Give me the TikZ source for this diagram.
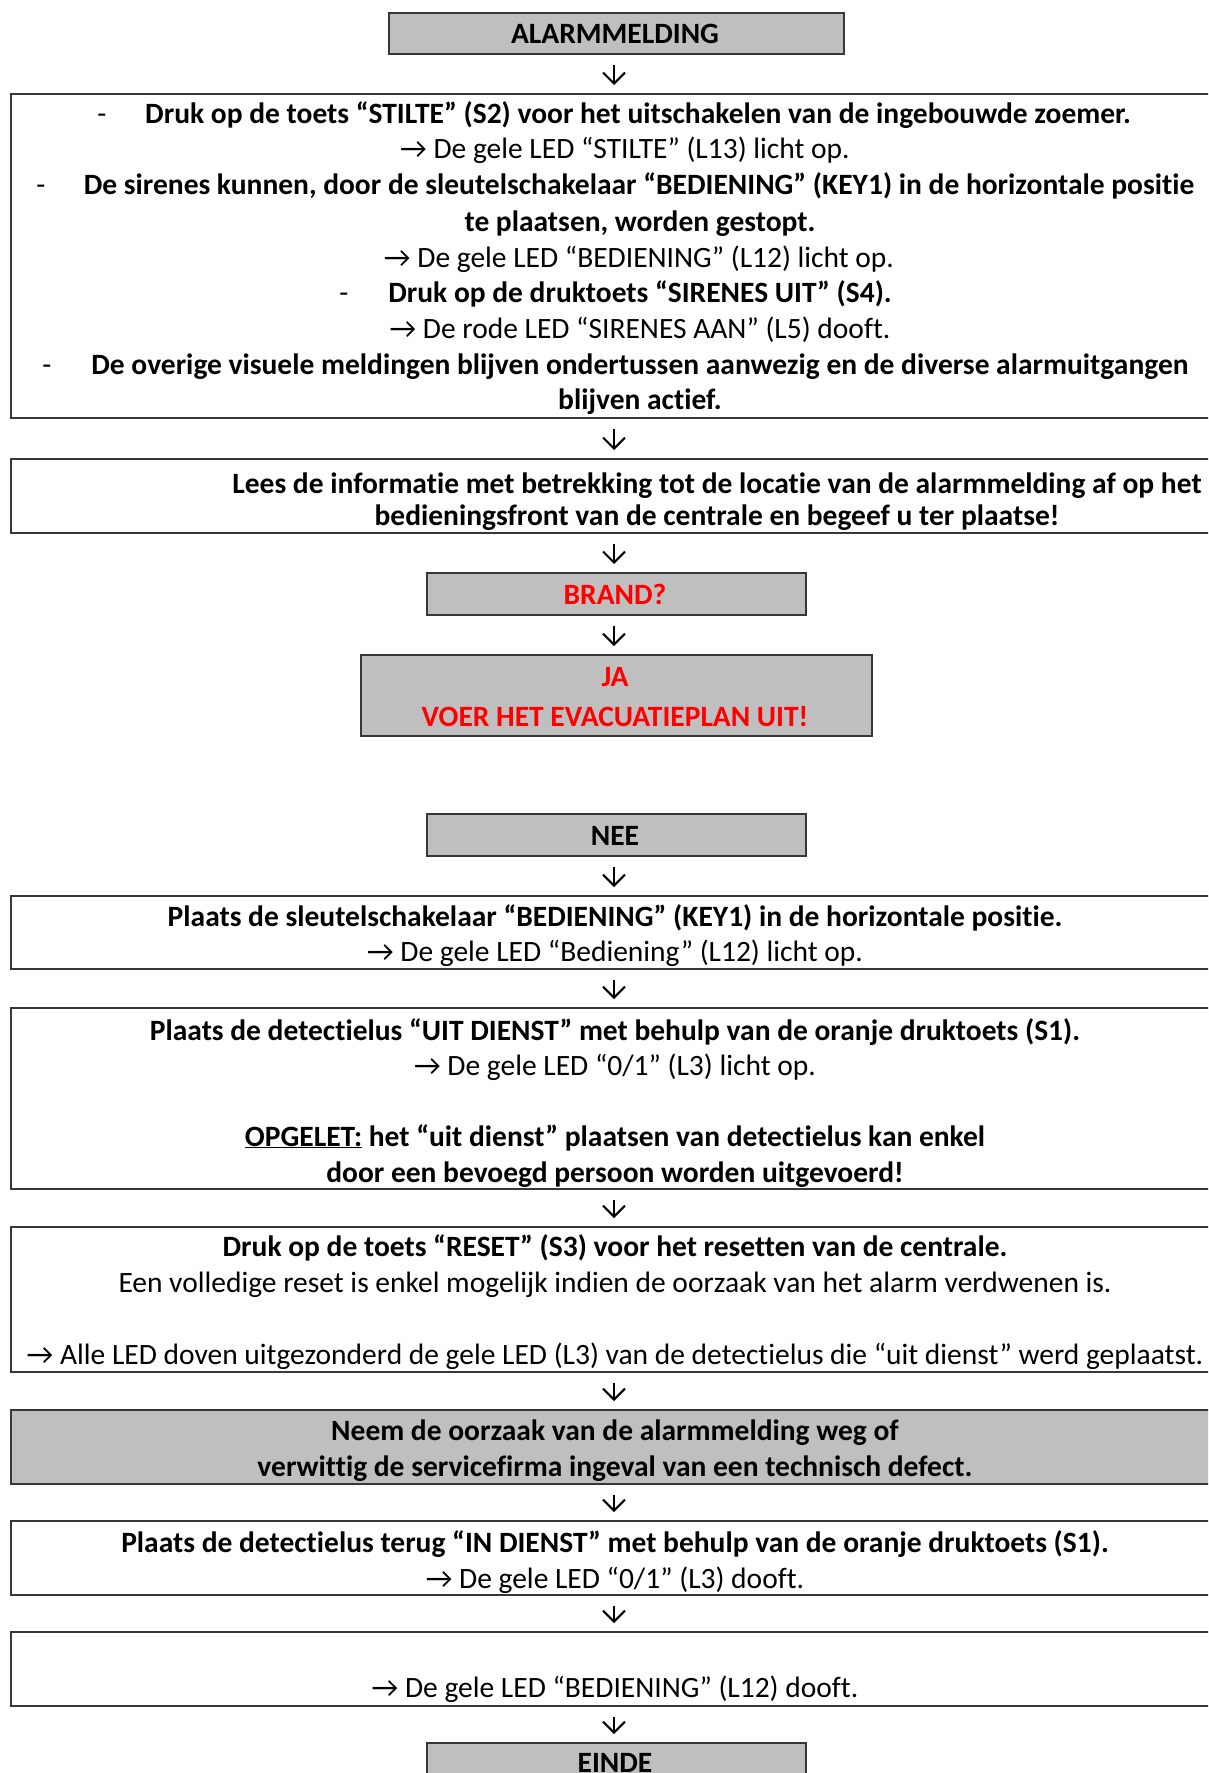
\documentclass[tikz,border=0pt]{standalone}
\usepackage{fontspec}
\setmainfont{Carlito}[Ligatures=NoCommon]
\usetikzlibrary{arrows.meta}
\definecolor{boxgray}{RGB}{191,191,191}
\definecolor{boxline}{RGB}{55,55,55}
\definecolor{alarmred}{RGB}{255,0,0}
\tikzset{
  flowbox/.style={draw=boxline, line width=1.6bp, rectangle, inner sep=0pt, anchor=north west},
  graybox/.style={flowbox, fill=boxgray},
  txt/.style={inner sep=0pt, yshift=-3bp, text height=20bp, text depth=6bp, font=\fontsize{29.5bp}{35bp}\selectfont\bfseries},
  rtxt/.style={inner sep=0pt, yshift=-3bp, text height=20bp, text depth=6bp, font=\fontsize{29.5bp}{35bp}\selectfont},
  redtxt/.style={txt, text=alarmred},
  arr/.style={line width=2bp, -{Straight Barb[length=11bp,width=22bp,line width=2bp]}, shorten <=10bp, shorten >=8bp},
}
\begin{document}
\begin{tikzpicture}[x=1bp,y=-1bp]
\useasboundingbox (0,0) rectangle (1208,1773);
\clip (0,0) rectangle (1208,1773);
\fill[white] (0,0) rectangle (1208,1773);
\coordinate (axis) at (614,0);

% boxes
\node[graybox, minimum width=455bp, minimum height=41bp] (alarm) at (388,12) {};
\node[flowbox, minimum width=1220bp, minimum height=324bp] (b1) at (10,93) {};
\node[flowbox, minimum width=1220bp, minimum height=74bp] (lees) at (10,458) {};
\node[graybox, minimum width=379bp, minimum height=42bp] (brand) at (426,572) {};
\node[graybox, minimum width=511bp, minimum height=81bp] (ja) at (360,654) {};
\node[graybox, minimum width=379bp, minimum height=42bp] (nee) at (426,813) {};
\node[flowbox, minimum width=1220bp, minimum height=73bp] (sleutel) at (10,895) {};
\node[flowbox, minimum width=1220bp, minimum height=181bp] (uit) at (10,1007) {};
\node[flowbox, minimum width=1220bp, minimum height=145bp] (reset) at (10,1226) {};
\node[graybox, minimum width=1220bp, minimum height=74bp] (neem) at (10,1409) {};
\node[flowbox, minimum width=1220bp, minimum height=74bp] (terug) at (10,1520) {};
\node[flowbox, minimum width=1220bp, minimum height=74bp] (laatste) at (10,1631) {};
\node[graybox, minimum width=379bp, minimum height=70bp] (einde) at (426,1742) {};

% texts
\node[txt] (t0) at (615,33) {ALARMMELDING};

\node[rtxt] (d1) at (102,113) {-};
\node[txt] (t1a) at (638,113) {Druk op de toets “STILTE” (S2) voor het uitschakelen van de ingebouwde zoemer.};
\node[rtxt] (t1b) at (625,148) {→ De gele LED “STILTE” (L13) licht op.};
\node[rtxt] (d2) at (41,184) {-};
\node[txt] (t1c) at (639,184) {De sirenes kunnen, door de sleutelschakelaar “BEDIENING” (KEY1) in de horizontale positie};
\node[txt] (t1d) at (640,221) {te plaatsen, worden gestopt.};
\node[rtxt] (t1e) at (639,257) {→ De gele LED “BEDIENING” (L12) licht op.};
\node[rtxt] (d3) at (344,292) {-};
\node[txt] (t1f) at (640,292) {Druk op de druktoets “SIRENES UIT” (S4).};
\node[rtxt] (t1g) at (640,328) {→ De rode LED “SIRENES AAN” (L5) dooft.};
\node[rtxt] (d4) at (47,364) {-};
\node[txt] (t1h) at (640,364) {De overige visuele meldingen blijven ondertussen aanwezig en de diverse alarmuitgangen};
\node[txt] (t1i) at (640,399) {blijven actief.};

\node[txt] (t2a) at (717,483) {Lees de informatie met betrekking tot de locatie van de alarmmelding af op het};
\node[txt] (t2b) at (717,515) {bedieningsfront van de centrale en begeef u ter plaatse!};

\node[redtxt] (t3) at (615,594) {BRAND?};
\node[redtxt] (t4a) at (615,676) {JA};
\node[redtxt] (t4b) at (615,716) {VOER HET EVACUATIEPLAN UIT!};
\node[txt] (t5) at (615,835) {NEE};

\node[txt] (t6a) at (615,916) {Plaats de sleutelschakelaar “BEDIENING” (KEY1) in de horizontale positie.};
\node[rtxt] (t6b) at (615,951) {→ De gele LED “Bediening” (L12) licht op.};

\node[txt] (t7a) at (615,1030) {Plaats de detectielus “UIT DIENST” met behulp van de oranje druktoets (S1).};
\node[rtxt] (t7b) at (615,1065) {→ De gele LED “0/1” (L3) licht op.};
\node[txt] (t7c) at (615,1136) {\underline{OPGELET:} het “uit dienst” plaatsen van detectielus kan enkel};
\node[txt] (t7d) at (615,1172) {door een bevoegd persoon worden uitgevoerd!};

\node[txt] (t8a) at (615,1246) {Druk op de toets “RESET” (S3) voor het resetten van de centrale.};
\node[rtxt] (t8b) at (615,1282) {Een volledige reset is enkel mogelijk indien de oorzaak van het alarm verdwenen is.};
\node[rtxt] (t8c) at (615,1354) {→ Alle LED doven uitgezonderd de gele LED (L3) van de detectielus die “uit dienst” werd geplaatst.};

\node[txt] (t9a) at (615,1430) {Neem de oorzaak van de alarmmelding weg of};
\node[txt] (t9b) at (615,1466) {verwittig de servicefirma ingeval van een technisch defect.};

\node[txt] (t10a) at (615,1542) {Plaats de detectielus terug “IN DIENST” met behulp van de oranje druktoets (S1).};
\node[rtxt] (t10b) at (615,1578) {→ De gele LED “0/1” (L3) dooft.};

\node[rtxt] (t11) at (615,1687) {→ De gele LED “BEDIENING” (L12) dooft.};

\node[txt] (t12) at (615,1762) {EINDE};

% connectors
\draw[arr] (axis |- alarm.south) -- (axis |- b1.north);
\draw[arr] (axis |- b1.south) -- (axis |- lees.north);
\draw[arr] (axis |- lees.south) -- (axis |- brand.north);
\draw[arr] (axis |- brand.south) -- (axis |- ja.north);
\draw[arr] (axis |- nee.south) -- (axis |- sleutel.north);
\draw[arr] (axis |- sleutel.south) -- (axis |- uit.north);
\draw[arr] (axis |- uit.south) -- (axis |- reset.north);
\draw[arr] (axis |- reset.south) -- (axis |- neem.north);
\draw[arr] (axis |- neem.south) -- (axis |- terug.north);
\draw[arr] (axis |- terug.south) -- (axis |- laatste.north);
\draw[arr] (axis |- laatste.south) -- (axis |- einde.north);
\end{tikzpicture}
\end{document}
